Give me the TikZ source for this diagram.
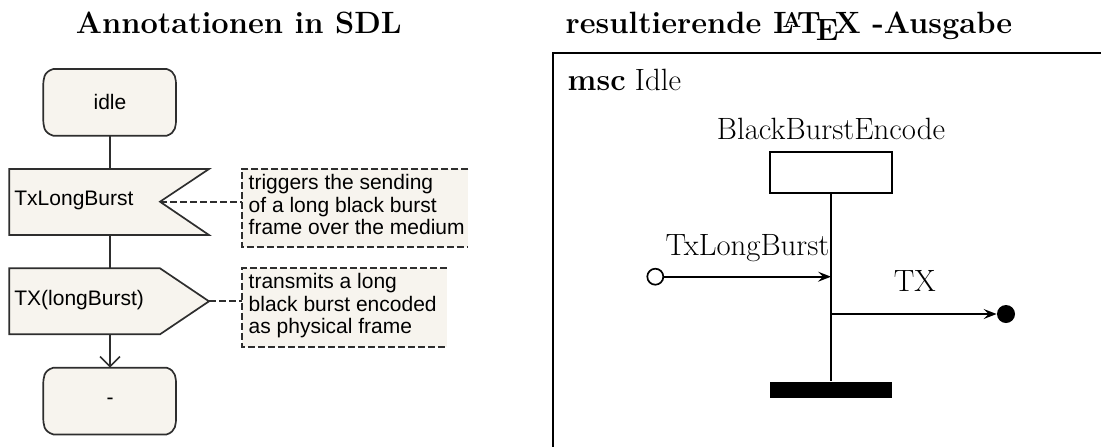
\documentclass[tikz,border=0pt]{standalone}
\usepackage{fontspec}
\newfontfamily\sdlfont{Liberation Sans}
\usepackage{tikz}
\usetikzlibrary{arrows.meta,positioning,calc}
\definecolor{sdlfill}{HTML}{F7F4EE}
\definecolor{sdlline}{HTML}{2E2E2E}
\tikzset{
    title/.style={font=\fontsize{15.4}{18}\selectfont\bfseries, anchor=base, inner sep=0},
    sdlshape/.style={draw=sdlline, fill=sdlfill, line width=0.85pt},
    sdltext/.style={font=\sdlfont\fontsize{10.5}{11.2}\selectfont, inner sep=0},
    sdlflow/.style={draw=sdlline, line width=0.85pt},
    notebox/.style={draw=sdlline, line width=0.85pt, dash pattern=on 3.5pt off 1.5pt},
    msctext/.style={font=\fontsize{15.4}{18}\selectfont, inner sep=0},
    mscline/.style={line width=0.85pt},
    mscmsg/.style={-{Stealth[length=6.5pt,width=5pt,inset=2.5pt]}, line width=0.85pt},
}
\begin{document}
\begin{tikzpicture}[x=0.5pt,y=-0.5pt]
    \useasboundingbox (0,0) rectangle (1101,446);
    \clip (0,0) rectangle (1101,446);

    % titles
    \node[title] (titleSDL) at (238.8,33.3) {Annotationen in SDL};
    \node[title] (titleMSC) at (789,33.3) {resultierende \LaTeX\ -Ausgabe};

    % SDL states
    \foreach \y/\name/\txt in {69/idle/idle, 367.7/next/-}{
        \draw[sdlshape] (53.3,\y) -- (166.7,\y)
            .. controls (176,\y+3) and (176,\y+10) .. (176,\y+17.7) -- (176,\y+49)
            .. controls (176,\y+56.7) and (176,\y+63.7) .. (166.7,\y+66.7) -- (53.3,\y+66.7)
            .. controls (43.3,\y+63.7) and (43.3,\y+56.7) .. (43.3,\y+49) -- (43.3,\y+17.7)
            .. controls (43.3,\y+10) and (43.3,\y+3) .. (53.3,\y) -- cycle;
        \node[sdltext] (\name) at (110,\y+33.3) {\txt};
        \coordinate (\name-top) at (110,\y);
        \coordinate (\name-bot) at (110,\y+66.7);
    }

    % input signal
    \draw[sdlshape] (9.3,169) -- (209,169) -- (160,201.7) -- (209,235) -- (9.3,235) -- cycle;
    \node[sdltext, anchor=base west] (inSig) at (14,205) {TxLongBurst};
    \coordinate (inSig-top) at (110,169);
    \coordinate (inSig-bot) at (110,235);
    \coordinate (inSig-notch) at (160,201.7);

    % output signal
    \draw[sdlshape] (9.3,268.3) -- (160,268.3) -- (209,301.3) -- (160,334.3) -- (9.3,334.3) -- cycle;
    \node[sdltext, anchor=base west] (outSig) at (14,305) {TX(longBurst)};
    \coordinate (outSig-top) at (110,268.3);
    \coordinate (outSig-bot) at (110,334.3);
    \coordinate (outSig-tip) at (209,301.3);

    % flow
    \draw[sdlflow] (idle-bot) -- (inSig-top);
    \draw[sdlflow] (inSig-bot) -- (outSig-top);
    \draw[sdlflow, -{Straight Barb[length=5pt,width=10pt]}] (outSig-bot) -- (next-top);

    % comments
    \fill[sdlfill] (241.7,169) rectangle (468.3,247.3);
    \draw[notebox] (468.3,169) -- (241.7,169) -- (241.7,247.3) -- (468.3,247.3);
    \coordinate (note1) at (241.7,201.7);
    \node[sdltext, anchor=north west, align=left] (note1txt) at (248.3,174)
        {triggers the sending\\of a long black burst\\frame over the medium};
    \fill[sdlfill] (241.7,268.3) rectangle (446.7,346.7);
    \draw[notebox] (446.7,268.3) -- (241.7,268.3) -- (241.7,346.7) -- (446.7,346.7);
    \coordinate (note2) at (241.7,301.3);
    \node[sdltext, anchor=north west, align=left] (note2txt) at (248.3,273.3)
        {transmits a long\\black burst encoded\\as physical frame};
    \draw[notebox] (inSig-notch) -- (note1);
    \draw[notebox] (outSig-tip) -- (note2);

    % msc frame
    \draw[mscline] (1120,53.3) -- (552.7,53.3) -- (552.7,460);
    \node[msctext, anchor=base west] (mscName) at (567.3,90) {\textbf{msc} Idle};

    % instance
    \node[msctext, anchor=base] (instName) at (831,139.3) {BlackBurstEncode};
    \node[draw, mscline, minimum width=60.8pt, minimum height=20.8pt, inner sep=0] (head) at (831,172.5) {};
    \node[fill, minimum width=61pt, minimum height=8pt, inner sep=0] (stop) at (831,389.7) {};
    \draw[mscline] (head.south) -- (stop.north);

    % messages
    \node[draw, circle, mscline, minimum size=8pt, inner sep=0] (gateIn) at (655.3,276.7) {};
    \coordinate (recvIn) at (831,276.7);
    \draw[mscmsg] (gateIn) -- (recvIn);
    \node[msctext, anchor=base] (inLabel) at (747.5,255) {TxLongBurst};
    \coordinate (sendOut) at (831,314);
    \node[fill, circle, minimum size=9pt, inner sep=0] (gateOut) at (1006,314) {};
    \draw[mscmsg] (sendOut) -- (gateOut);
    \node[msctext, anchor=base] (outLabel) at (914.7,291.7) {TX};
\end{tikzpicture}
\end{document}
